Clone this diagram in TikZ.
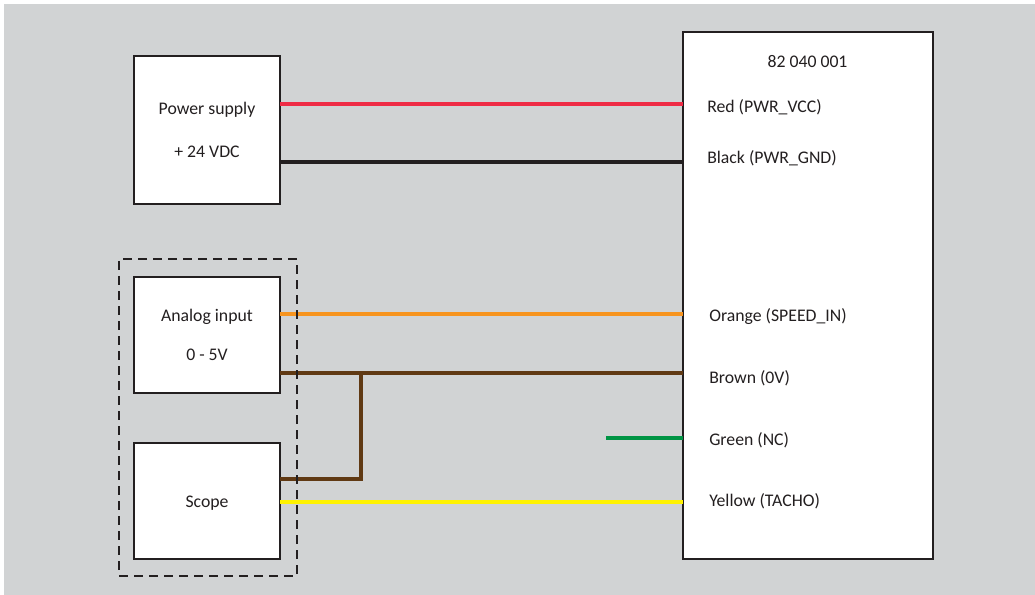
\documentclass[tikz,border=0pt]{standalone}
\usepackage{fontspec}
\setmainfont{Carlito}
\usetikzlibrary{positioning}
\definecolor{panelgray}{HTML}{D1D3D4}
\definecolor{inkblack}{HTML}{231F20}
\definecolor{wirered}{HTML}{EF2B45}
\definecolor{wireorange}{HTML}{F7941E}
\definecolor{wirebrown}{HTML}{603913}
\definecolor{wiregreen}{HTML}{009444}
\definecolor{wireyellow}{HTML}{FFF200}
\tikzset{
    %Define style for boxes
    unitbox/.style={
           rectangle,
           draw=inkblack,
           line width=1.3pt,
           fill=white,
           minimum width=109.5pt,
           outer sep=0pt,
           align=center,
           text=inkblack,
           font=\fontsize{13.3}{32}\selectfont,
           },
    groupbox/.style={
           rectangle,
           draw=inkblack,
           line width=1pt,
           dash pattern=on 6.75pt off 4.5pt,
           minimum width=133.5pt,
           minimum height=237.75pt,
           },
    pintext/.style={
           anchor=west,
           inner sep=0pt,
           text=inkblack,
           font=\fontsize{13.3}{14}\selectfont,
           },
    % Define wire style
    wire/.style={
           line width=3pt,
           },
}
\begin{document}
\begin{tikzpicture}[x=0.75pt,y=-0.75pt,node distance=54.75pt]
\useasboundingbox (0,0) rectangle (1035,595);
\fill[panelgray] (4,4) rectangle (1035,595);
\node[unitbox,minimum height=111pt](1) at (207,130){Power supply\\+ 24 VDC};
\node[unitbox,minimum height=87pt,below=of 1](2){Analog input\\[-2.2pt]0 - 5V};
\node[unitbox,minimum height=87pt,below=37.5pt of 2](3){\raisebox{0pt}[12pt][3pt]{Scope}};
\node[unitbox,minimum width=187.5pt,minimum height=395.25pt](4) at (808,295.5){};
\node[pintext,anchor=center](5) at (807.5,62){82 040 001};
\node[pintext](6) at (707,107.5){Red (PWR\_VCC)};
\node[pintext](7) at (707,158.5){Black (PWR\_GND)};
\node[pintext](8) at (709,316.5){Orange (SPEED\_IN)};
\node[pintext](9) at (709,378.5){Brown (0V)};
\node[pintext](10) at (709,440.5){Green (NC)};
\node[pintext](11) at (709,501.5){Yellow (TACHO)};
\coordinate (red) at (683,104);
\coordinate (black) at (683,162);
\coordinate (orange) at (683,314);
\coordinate (brown) at (683,373);
\coordinate (tap) at (361,373);
\coordinate (knee) at (361,479);
\coordinate (green) at (683,438);
\coordinate (nc) at (606,438);
\coordinate (yellow) at (683,502);
\draw[wire,wirered] (1.east |- red) -- (red);
\draw[wire,inkblack] (1.east |- black) -- (black);
\draw[wire,wireorange] (2.east |- orange) -- (orange);
\draw[wire,wirebrown] (2.east |- brown) -- (brown);
\draw[wire,wirebrown] (3.east |- knee) -- (knee) -- (tap);
\draw[wire,wiregreen] (nc) -- (green);
\draw[wire,wireyellow] (3.east |- yellow) -- (yellow);
\node[groupbox](12) at (208,417.5){};
\end{tikzpicture}
\end{document}
